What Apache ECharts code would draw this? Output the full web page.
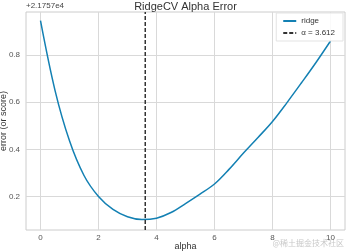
<!DOCTYPE html>
<html>
<head>
<meta charset="utf-8">
<script src="https://cdn.jsdelivr.net/npm/echarts@6/dist/echarts.min.js"></script>
<style>html,body{margin:0;padding:0;background:#fff}#c{width:348px;height:252px}</style>
</head>
<body>
<div id="c"></div>
<script>
var alphas = [0,0.5,1,1.5,2,2.5,3,3.5,4,4.5,5,5.5,6,6.5,7,7.5,8,8.5,9,9.5,10];
var errors = [0.945,0.65,0.436,0.289,0.2,0.145,0.114,0.102,0.108,0.132,0.17,0.21,0.253,0.315,0.384,0.45,0.518,0.598,0.682,0.768,0.859];
var bestAlpha = 3.612;
var xTicks = [0,2,4,6,8,10];
var yTicks = [0.2,0.4,0.6,0.8];
var xRange = [-0.5, 10.5];
var yRange = [0.058, 0.982];

var chart = echarts.init(document.getElementById('c'));
var font = 'Liberation Sans, Arial, sans-serif';
chart.setOption({
  animation: false,
  backgroundColor: '#fff',
  title: {
    text: 'RidgeCV Alpha Error', left: 185.5, top: 1, padding: 0, textAlign: 'center',
    textStyle: {fontSize: 11, fontWeight: 'normal', color: '#333', fontFamily: font}
  },
  grid: {left: 26, top: 12, right: 3, bottom: 22, outerBoundsMode: 'none', containLabel: false,
    show: true, borderColor: '#cccccc', borderWidth: 1},
  legend: {
    orient: 'vertical', right: 5, top: 13, itemWidth: 13, itemHeight: 8, itemGap: 4,
    padding: [4, 8, 4, 6], backgroundColor: 'rgba(255,255,255,0.85)', borderColor: '#e3e3e3', borderWidth: 1,
    itemStyle: {opacity: 0},
    textStyle: {fontSize: 8, color: '#333', fontFamily: font},
    data: ['ridge', 'α = 3.612']
  },
  xAxis: {
    type: 'value', min: xRange[0], max: xRange[1],
    name: 'alpha', nameLocation: 'middle', nameGap: 12, nameMoveOverlap: false,
    nameTextStyle: {fontSize: 9, color: '#333', fontFamily: font},
    axisLine: {show: false}, axisTick: {show: false, customValues: xTicks},
    axisLabel: {customValues: xTicks, fontSize: 8, color: '#555', margin: 4, fontFamily: font},
    splitLine: {show: true, lineStyle: {color: '#d9d9d9', width: 1}}
  },
  yAxis: {
    type: 'value', min: yRange[0], max: yRange[1],
    name: 'error (or score)', nameLocation: 'middle', nameGap: 18, nameRotate: 90, nameMoveOverlap: false,
    nameTextStyle: {fontSize: 9, color: '#333', fontFamily: font},
    axisLine: {show: false}, axisTick: {show: false, customValues: yTicks},
    axisLabel: {customValues: yTicks, fontSize: 8, color: '#555', margin: 6, fontFamily: font,
      formatter: function (v) { return v.toFixed(1); }},
    splitLine: {show: true, lineStyle: {color: '#d9d9d9', width: 1}}
  },
  graphic: [
    {type: 'text', left: 26, top: 2, style: {text: '+2.1757e4', fontSize: 8, fill: '#444', fontFamily: font}},
    {type: 'text', right: 4, top: 239, style: {text: '@稀土掘金技术社区', fontSize: 8, fill: '#c8c8c8', fontFamily: 'Noto Sans CJK SC'}}
  ],
  series: [
    {
      name: 'ridge', type: 'line', showSymbol: false, symbol: 'none', smooth: 0.35,
      data: alphas.map(function (a, i) { return [a, errors[i]]; }),
      lineStyle: {color: '#1380b3', width: 1.5}, itemStyle: {color: '#1380b3'}
    },
    {
      name: 'α = 3.612', type: 'line', showSymbol: false, symbol: 'none',
      data: [[bestAlpha, yRange[0]], [bestAlpha, yRange[1]]],
      lineStyle: {color: '#333', width: 1.5, type: [4, 2]}, itemStyle: {color: '#333'}
    }
  ]
});
</script>
</body>
</html>
